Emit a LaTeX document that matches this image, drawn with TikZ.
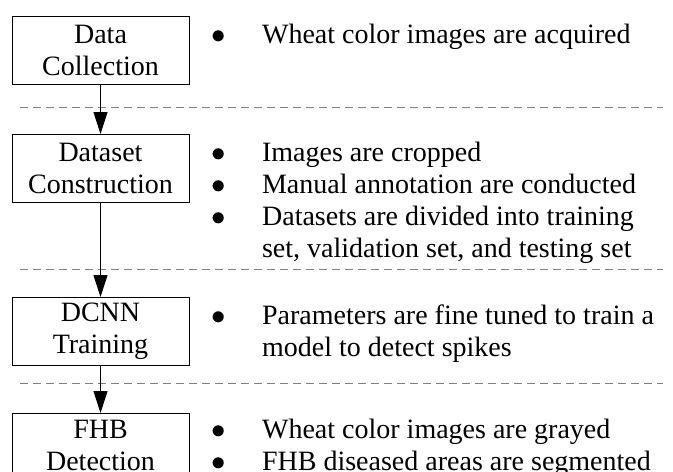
\documentclass[tikz,border=0pt]{standalone}
\usepackage{fontspec}
\setmainfont{Liberation Serif}
\usepackage{tikz}
\usetikzlibrary{arrows.meta, positioning, calc}
\tikzset{stage/.style={rectangle,draw,line width=0.5pt,minimum width=88.5pt,minimum height=34pt,align=center,inner sep=0pt,font=\fontsize{14}{16}\selectfont},
         desc/.style={anchor=base west,inner sep=0pt,font=\fontsize{14}{16}\selectfont},
         divider/.style={draw=gray,line width=0.5pt,dash pattern=on 4pt off 2.5pt},
         arrow/.style={-{Triangle[length=11pt,width=7pt]},line width=0.5pt}}
\newcommand{\bulletlist}[1]{\begin{tabular}[t]{@{}c@{\hspace{18.2pt}}l@{}}#1\end{tabular}}

\begin{document}
\begin{tikzpicture}
    \useasboundingbox (0,0) rectangle (336.5pt,-235.5pt);
    % Stages on the left
    \node (data) [stage] at (50.25pt,-25.25pt) {Data\\Collection};
    \node (dataset) [stage, below=24.5pt of data] {Dataset\\Construction};
    \node (dcnn) [stage, below=47pt of dataset] {DCNN\\Training};
    \node (fhb) [stage, minimum height=31.5pt, below=23.5pt of dcnn] {FHB\\Detection};
    % What happens in each stage
    \node (dataText) [desc] at ($(data.north east)+(10.7pt,-13.6pt)$) {\bulletlist{$\bullet$ & Wheat color images are acquired}};
    \node (datasetText) [desc] at ($(dataset.north east)+(10.7pt,-13.6pt)$) {\bulletlist{$\bullet$ & Images are cropped\\
        $\bullet$ & Manual annotation are conducted\\
        $\bullet$ & Datasets are divided into training\\
        & set, validation set, and testing set}};
    \node (dcnnText) [desc] at ($(dcnn.north east)+(10.7pt,-13.6pt)$) {\bulletlist{$\bullet$ & Parameters are fine tuned to train a\\
        & model to detect spikes}};
    \node (fhbText) [desc] at ($(fhb.north east)+(10.7pt,-12.6pt)$) {\bulletlist{$\bullet$ & Wheat color images are grayed\\
        $\bullet$ & FHB diseased areas are segmented}};
    % Separators between the stages
    \draw[divider] (10pt,-53.5pt) -- (331.5pt,-53.5pt);
    \draw[divider] (10pt,-134.5pt) -- (331.5pt,-134.5pt);
    \draw[divider] (10pt,-191.5pt) -- (331.5pt,-191.5pt);
    % Flow
    \draw[arrow] (data) -- (dataset);
    \draw[arrow] (dataset) -- (dcnn);
    \draw[arrow] (dcnn) -- (fhb);
  \end{tikzpicture}
\end{document}
